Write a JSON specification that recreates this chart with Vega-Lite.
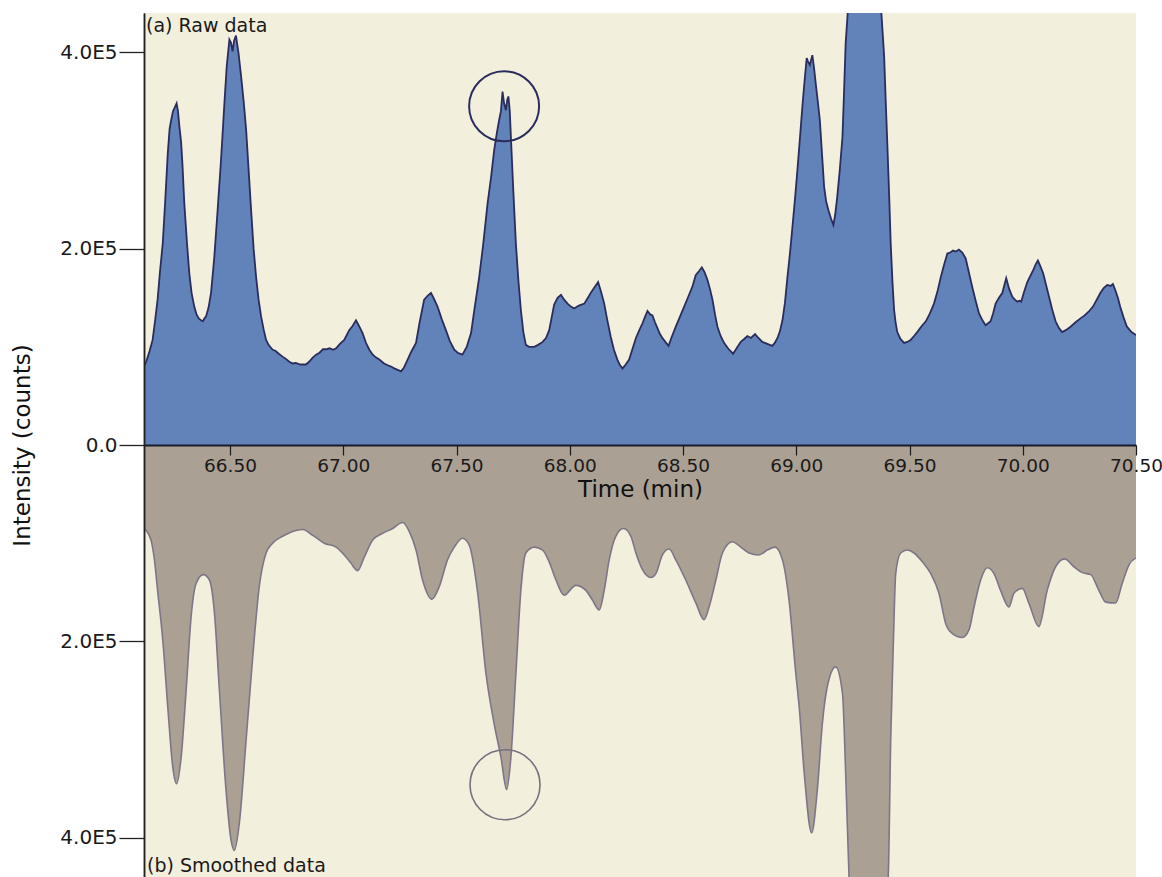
{
  "$schema": "https://vega.github.io/schema/vega-lite/v6.json",
  "width": 992,
  "height": 864,
  "autosize": {"type": "none"},
  "padding": {"left": 144, "top": 13, "right": 26, "bottom": 0},
  "background": "white",
  "config": {
    "view": {"fill": "#F3EFDD", "stroke": null},
    "font": "DejaVu Sans",
    "axis": {"labelFont": "DejaVu Sans", "labelColor": "#1a1a1a", "titleFont": "DejaVu Sans", "titleFontSize": 23, "titleFontWeight": "normal", "titleColor": "#111111", "grid": false},
    "axisX": {"labelFontSize": 18.5},
    "axisY": {"labelFontSize": 20}
  },
  "datasets": {
    "raw": [
      {"t":66.12,"v":80000},{"t":66.13,"v":85000},{"t":66.137,"v":90000},{"t":66.145,"v":96000},{"t":66.158,"v":107000},{"t":66.168,"v":125000},{"t":66.18,"v":148000},{"t":66.19,"v":175000},{"t":66.203,"v":206000},{"t":66.214,"v":250000},{"t":66.225,"v":297000},{"t":66.233,"v":322000},{"t":66.24,"v":331000},{"t":66.248,"v":340000},{"t":66.256,"v":344000},{"t":66.264,"v":348000},{"t":66.27,"v":340000},{"t":66.276,"v":325000},{"t":66.284,"v":308000},{"t":66.29,"v":285000},{"t":66.298,"v":246000},{"t":66.31,"v":205000},{"t":66.32,"v":175000},{"t":66.33,"v":155000},{"t":66.342,"v":141000},{"t":66.352,"v":133000},{"t":66.362,"v":129000},{"t":66.372,"v":127000},{"t":66.38,"v":126000},{"t":66.387,"v":129000},{"t":66.394,"v":131000},{"t":66.405,"v":140000},{"t":66.416,"v":155000},{"t":66.43,"v":190000},{"t":66.445,"v":239000},{"t":66.46,"v":290000},{"t":66.475,"v":348000},{"t":66.485,"v":385000},{"t":66.497,"v":413000},{"t":66.504,"v":410000},{"t":66.511,"v":401000},{"t":66.518,"v":412000},{"t":66.526,"v":417000},{"t":66.537,"v":400000},{"t":66.549,"v":375000},{"t":66.56,"v":350000},{"t":66.571,"v":321000},{"t":66.582,"v":280000},{"t":66.593,"v":239000},{"t":66.604,"v":200000},{"t":66.615,"v":171000},{"t":66.626,"v":148000},{"t":66.637,"v":131000},{"t":66.648,"v":118000},{"t":66.659,"v":107000},{"t":66.67,"v":102000},{"t":66.688,"v":97000},{"t":66.7,"v":96000},{"t":66.715,"v":93000},{"t":66.732,"v":90000},{"t":66.745,"v":88000},{"t":66.76,"v":85000},{"t":66.776,"v":83000},{"t":66.79,"v":83500},{"t":66.81,"v":82000},{"t":66.835,"v":82000},{"t":66.85,"v":85000},{"t":66.865,"v":89000},{"t":66.88,"v":92000},{"t":66.895,"v":94000},{"t":66.91,"v":97500},{"t":66.924,"v":97500},{"t":66.94,"v":98500},{"t":66.955,"v":97000},{"t":66.968,"v":98500},{"t":66.985,"v":103000},{"t":67.004,"v":107000},{"t":67.015,"v":112000},{"t":67.026,"v":117000},{"t":67.04,"v":121000},{"t":67.056,"v":127000},{"t":67.07,"v":121000},{"t":67.085,"v":114000},{"t":67.1,"v":104000},{"t":67.115,"v":97000},{"t":67.13,"v":92000},{"t":67.145,"v":89000},{"t":67.159,"v":87000},{"t":67.18,"v":83000},{"t":67.203,"v":80500},{"t":67.215,"v":79500},{"t":67.225,"v":78000},{"t":67.24,"v":76500},{"t":67.255,"v":75000},{"t":67.268,"v":79000},{"t":67.284,"v":87000},{"t":67.3,"v":95000},{"t":67.321,"v":104000},{"t":67.337,"v":125000},{"t":67.357,"v":148000},{"t":67.372,"v":152000},{"t":67.387,"v":155000},{"t":67.4,"v":149000},{"t":67.416,"v":141000},{"t":67.435,"v":128000},{"t":67.453,"v":117000},{"t":67.47,"v":106000},{"t":67.49,"v":97000},{"t":67.505,"v":94000},{"t":67.526,"v":92000},{"t":67.545,"v":100000},{"t":67.564,"v":114000},{"t":67.58,"v":140000},{"t":67.6,"v":171000},{"t":67.618,"v":205000},{"t":67.637,"v":246000},{"t":67.652,"v":272000},{"t":67.666,"v":300000},{"t":67.678,"v":318000},{"t":67.688,"v":331000},{"t":67.696,"v":340000},{"t":67.703,"v":360000},{"t":67.71,"v":348000},{"t":67.718,"v":341000},{"t":67.724,"v":352000},{"t":67.729,"v":355000},{"t":67.735,"v":340000},{"t":67.74,"v":314000},{"t":67.75,"v":262000},{"t":67.762,"v":205000},{"t":67.773,"v":168000},{"t":67.784,"v":137500},{"t":67.795,"v":115000},{"t":67.806,"v":102000},{"t":67.82,"v":100000},{"t":67.843,"v":100000},{"t":67.86,"v":102000},{"t":67.88,"v":105000},{"t":67.895,"v":109000},{"t":67.909,"v":117000},{"t":67.92,"v":130000},{"t":67.931,"v":143000},{"t":67.946,"v":150000},{"t":67.961,"v":153000},{"t":67.975,"v":148000},{"t":67.99,"v":144000},{"t":68.005,"v":141000},{"t":68.019,"v":139000},{"t":68.04,"v":142000},{"t":68.064,"v":144000},{"t":68.08,"v":150000},{"t":68.093,"v":155000},{"t":68.11,"v":161000},{"t":68.125,"v":166000},{"t":68.138,"v":156000},{"t":68.152,"v":144000},{"t":68.165,"v":128000},{"t":68.181,"v":110000},{"t":68.195,"v":97000},{"t":68.21,"v":87000},{"t":68.22,"v":82000},{"t":68.233,"v":78000},{"t":68.247,"v":82000},{"t":68.262,"v":87000},{"t":68.277,"v":98000},{"t":68.292,"v":109000},{"t":68.307,"v":117000},{"t":68.321,"v":124000},{"t":68.333,"v":131000},{"t":68.343,"v":136500},{"t":68.355,"v":133000},{"t":68.365,"v":132000},{"t":68.376,"v":125000},{"t":68.387,"v":119000},{"t":68.398,"v":113000},{"t":68.409,"v":109000},{"t":68.422,"v":105000},{"t":68.436,"v":101000},{"t":68.45,"v":110000},{"t":68.468,"v":120500},{"t":68.487,"v":131000},{"t":68.505,"v":141000},{"t":68.523,"v":151000},{"t":68.541,"v":161000},{"t":68.556,"v":173000},{"t":68.57,"v":177000},{"t":68.583,"v":181000},{"t":68.595,"v":176000},{"t":68.608,"v":168000},{"t":68.62,"v":158000},{"t":68.63,"v":148000},{"t":68.642,"v":132000},{"t":68.652,"v":120500},{"t":68.666,"v":111000},{"t":68.681,"v":104000},{"t":68.7,"v":98000},{"t":68.721,"v":93000},{"t":68.738,"v":99000},{"t":68.755,"v":105000},{"t":68.77,"v":108000},{"t":68.784,"v":111000},{"t":68.8,"v":109000},{"t":68.818,"v":113000},{"t":68.833,"v":109000},{"t":68.85,"v":105000},{"t":68.872,"v":103000},{"t":68.894,"v":101000},{"t":68.905,"v":104000},{"t":68.917,"v":109000},{"t":68.928,"v":116000},{"t":68.939,"v":127000},{"t":68.95,"v":145000},{"t":68.961,"v":171000},{"t":68.972,"v":195000},{"t":68.983,"v":222000},{"t":68.994,"v":250000},{"t":69.005,"v":280000},{"t":69.016,"v":312000},{"t":69.027,"v":345000},{"t":69.037,"v":372000},{"t":69.046,"v":394000},{"t":69.053,"v":390000},{"t":69.06,"v":387000},{"t":69.065,"v":392000},{"t":69.071,"v":397000},{"t":69.078,"v":385000},{"t":69.086,"v":368000},{"t":69.095,"v":350000},{"t":69.104,"v":331000},{"t":69.114,"v":295000},{"t":69.123,"v":263000},{"t":69.132,"v":248000},{"t":69.142,"v":239000},{"t":69.153,"v":231000},{"t":69.164,"v":224000},{"t":69.172,"v":235000},{"t":69.181,"v":253000},{"t":69.192,"v":280000},{"t":69.204,"v":314000},{"t":69.211,"v":360000},{"t":69.218,"v":409000},{"t":69.23,"v":450000},{"t":69.25,"v":520000},{"t":69.3,"v":600000},{"t":69.35,"v":520000},{"t":69.373,"v":450000},{"t":69.388,"v":396000},{"t":69.395,"v":350000},{"t":69.402,"v":307000},{"t":69.41,"v":255000},{"t":69.417,"v":205000},{"t":69.425,"v":165000},{"t":69.432,"v":137500},{"t":69.439,"v":124000},{"t":69.446,"v":115000},{"t":69.46,"v":108000},{"t":69.476,"v":104000},{"t":69.49,"v":105000},{"t":69.505,"v":107000},{"t":69.52,"v":111000},{"t":69.534,"v":115000},{"t":69.553,"v":121000},{"t":69.572,"v":126000},{"t":69.59,"v":134000},{"t":69.608,"v":144000},{"t":69.623,"v":156000},{"t":69.638,"v":171000},{"t":69.652,"v":183000},{"t":69.667,"v":195000},{"t":69.68,"v":196000},{"t":69.692,"v":198000},{"t":69.705,"v":197000},{"t":69.718,"v":199000},{"t":69.733,"v":196000},{"t":69.748,"v":190000},{"t":69.762,"v":176000},{"t":69.777,"v":161000},{"t":69.792,"v":147000},{"t":69.807,"v":134000},{"t":69.822,"v":127000},{"t":69.836,"v":122000},{"t":69.847,"v":124000},{"t":69.858,"v":126000},{"t":69.869,"v":134000},{"t":69.88,"v":144000},{"t":69.895,"v":150000},{"t":69.91,"v":155000},{"t":69.92,"v":164000},{"t":69.927,"v":170000},{"t":69.94,"v":159000},{"t":69.954,"v":151000},{"t":69.965,"v":148000},{"t":69.976,"v":146000},{"t":69.985,"v":147000},{"t":69.993,"v":146000},{"t":70.006,"v":156000},{"t":70.02,"v":166000},{"t":70.033,"v":172000},{"t":70.046,"v":178000},{"t":70.057,"v":184000},{"t":70.067,"v":188000},{"t":70.078,"v":182000},{"t":70.09,"v":175000},{"t":70.103,"v":163000},{"t":70.116,"v":151000},{"t":70.13,"v":138000},{"t":70.145,"v":126000},{"t":70.16,"v":119000},{"t":70.174,"v":115000},{"t":70.19,"v":117000},{"t":70.211,"v":120500},{"t":70.233,"v":125000},{"t":70.255,"v":129000},{"t":70.273,"v":132000},{"t":70.292,"v":136000},{"t":70.31,"v":141000},{"t":70.329,"v":149000},{"t":70.343,"v":155000},{"t":70.358,"v":160000},{"t":70.373,"v":163000},{"t":70.388,"v":162000},{"t":70.398,"v":164000},{"t":70.408,"v":158000},{"t":70.42,"v":150000},{"t":70.43,"v":141000},{"t":70.445,"v":130000},{"t":70.46,"v":120500},{"t":70.48,"v":115000},{"t":70.5,"v":112000}
    ],
    "smooth": [
      {"t":66.12,"v":85000},{"t":66.151,"v":97000},{"t":66.165,"v":115000},{"t":66.18,"v":148000},{"t":66.203,"v":199000},{"t":66.225,"v":267000},{"t":66.247,"v":328000},{"t":66.264,"v":345000},{"t":66.284,"v":318000},{"t":66.306,"v":250000},{"t":66.328,"v":175000},{"t":66.35,"v":141000},{"t":66.382,"v":132000},{"t":66.409,"v":137500},{"t":66.431,"v":171000},{"t":66.453,"v":250000},{"t":66.482,"v":351000},{"t":66.504,"v":402000},{"t":66.519,"v":413000},{"t":66.541,"v":385000},{"t":66.571,"v":300000},{"t":66.6,"v":216000},{"t":66.629,"v":144000},{"t":66.659,"v":110000},{"t":66.688,"v":100000},{"t":66.732,"v":93000},{"t":66.776,"v":88000},{"t":66.82,"v":86000},{"t":66.865,"v":92000},{"t":66.916,"v":100000},{"t":66.968,"v":104000},{"t":67.004,"v":112000},{"t":67.034,"v":120500},{"t":67.063,"v":128000},{"t":67.093,"v":114000},{"t":67.129,"v":97000},{"t":67.173,"v":90000},{"t":67.218,"v":85000},{"t":67.262,"v":79000},{"t":67.291,"v":88000},{"t":67.321,"v":107000},{"t":67.35,"v":137500},{"t":67.391,"v":157000},{"t":67.424,"v":144000},{"t":67.46,"v":117000},{"t":67.49,"v":104000},{"t":67.526,"v":95000},{"t":67.556,"v":102000},{"t":67.593,"v":150000},{"t":67.63,"v":233000},{"t":67.666,"v":284000},{"t":67.696,"v":318000},{"t":67.721,"v":351000},{"t":67.74,"v":318000},{"t":67.762,"v":233000},{"t":67.784,"v":148000},{"t":67.806,"v":110000},{"t":67.843,"v":104000},{"t":67.88,"v":107000},{"t":67.909,"v":119000},{"t":67.939,"v":137500},{"t":67.975,"v":153000},{"t":68.027,"v":143000},{"t":68.071,"v":148000},{"t":68.1,"v":158000},{"t":68.13,"v":168000},{"t":68.152,"v":148000},{"t":68.174,"v":117000},{"t":68.203,"v":93000},{"t":68.237,"v":85000},{"t":68.27,"v":93000},{"t":68.292,"v":110000},{"t":68.321,"v":127000},{"t":68.358,"v":135000},{"t":68.38,"v":131000},{"t":68.409,"v":112000},{"t":68.439,"v":106000},{"t":68.468,"v":117000},{"t":68.512,"v":137500},{"t":68.557,"v":161000},{"t":68.593,"v":178000},{"t":68.615,"v":165000},{"t":68.645,"v":137500},{"t":68.674,"v":110000},{"t":68.718,"v":98500},{"t":68.755,"v":104000},{"t":68.791,"v":110000},{"t":68.835,"v":112000},{"t":68.872,"v":107000},{"t":68.906,"v":104000},{"t":68.939,"v":117000},{"t":68.968,"v":158000},{"t":68.998,"v":233000},{"t":69.013,"v":267000},{"t":69.035,"v":334000},{"t":69.068,"v":395000},{"t":69.093,"v":351000},{"t":69.115,"v":284000},{"t":69.137,"v":246000},{"t":69.174,"v":226000},{"t":69.204,"v":253000},{"t":69.218,"v":334000},{"t":69.233,"v":440000},{"t":69.26,"v":540000},{"t":69.3,"v":600000},{"t":69.36,"v":540000},{"t":69.406,"v":440000},{"t":69.417,"v":300000},{"t":69.429,"v":199000},{"t":69.439,"v":131000},{"t":69.461,"v":110000},{"t":69.49,"v":107000},{"t":69.52,"v":110000},{"t":69.557,"v":119000},{"t":69.594,"v":131000},{"t":69.63,"v":151000},{"t":69.66,"v":182000},{"t":69.689,"v":192000},{"t":69.733,"v":196000},{"t":69.763,"v":188000},{"t":69.785,"v":165000},{"t":69.814,"v":137500},{"t":69.843,"v":125000},{"t":69.873,"v":131000},{"t":69.902,"v":148000},{"t":69.939,"v":165000},{"t":69.961,"v":151000},{"t":69.998,"v":146000},{"t":70.027,"v":161000},{"t":70.071,"v":185000},{"t":70.108,"v":148000},{"t":70.145,"v":124000},{"t":70.185,"v":116000},{"t":70.226,"v":124000},{"t":70.263,"v":130000},{"t":70.3,"v":132000},{"t":70.336,"v":148000},{"t":70.366,"v":160000},{"t":70.41,"v":161000},{"t":70.439,"v":141000},{"t":70.469,"v":122000},{"t":70.5,"v":115000}
    ],
    "rawMark": [{"t": 67.71, "v": 345000}],
    "smoothMark": [{"t": 67.714, "v": 346000}],
    "rawLabel": [{"t": 66.12, "v": 440000, "label": "(a) Raw data"}],
    "smoothLabel": [{"t": 66.12, "v": 440000, "label": "(b) Smoothed data"}]
  },
  "layer": [
    {
      "layer": [
        {
          "data": {"name": "raw"},
          "mark": {"type": "area", "clip": true, "color": "#6282BA", "opacity": 1, "interpolate": "linear"},
          "encoding": {
            "x": {"field": "t", "type": "quantitative", "scale": {"domain": [66.12, 70.5], "nice": false, "zero": false},
              "axis": {"title": "Time (min)", "orient": "bottom", "offset": -432, "values": [66.5, 67, 67.5, 68, 68.5, 69, 69.5, 70, 70.5], "format": ".2f", "tickSize": 10, "tickColor": "#1a1a1a", "tickWidth": 1.2, "domainColor": "#1a1a2a", "domainWidth": 2.2, "labelFont": "DejaVu Sans", "labelFontSize": 18.5, "labelColor": "#1a1a1a", "labelPadding": 1, "labelFlush": false, "labelOverlap": false, "titleFont": "DejaVu Sans", "titleFontSize": 23, "titleFontWeight": "normal", "titleColor": "#111111", "titlePadding": 4, "grid": false, "zindex": 1}},
            "y": {"field": "v", "type": "quantitative", "scale": {"domain": [-440000, 440000], "nice": false},
              "axis": {"title": "Intensity (counts)", "orient": "left", "values": [0, 200000, 400000], "labelExpr": "datum.value == 0 ? '0.0' : format(datum.value/100000, '.1f') + 'E5'", "tickSize": 25, "tickColor": "#222222", "tickWidth": 1.3, "domainColor": "#222222", "domainWidth": 1.5, "labelFont": "DejaVu Sans", "labelFontSize": 20, "labelColor": "#1a1a1a", "labelPadding": 2, "grid": false, "titleFont": "DejaVu Sans", "titleFontSize": 23, "titleFontWeight": "normal", "titleColor": "#111111", "titleX": -122, "titleY": 432, "titleAngle": -90, "titleBaseline": "middle", "titleAlign": "center", "zindex": 1}}
          }
        },
        {
          "data": {"name": "raw"},
          "mark": {"type": "line", "clip": true, "color": "#2A2D5C", "strokeWidth": 1.8, "interpolate": "linear"},
          "encoding": {
            "x": {"field": "t", "type": "quantitative", "scale": {"domain": [66.12, 70.5], "nice": false, "zero": false}},
            "y": {"field": "v", "type": "quantitative", "scale": {"domain": [-440000, 440000], "nice": false}}
          }
        },
        {
          "data": {"name": "rawMark"},
          "mark": {"type": "point", "shape": "circle", "filled": false, "size": 4900, "stroke": "#2A2D5C", "strokeWidth": 2, "opacity": 1},
          "encoding": {
            "x": {"field": "t", "type": "quantitative", "scale": {"domain": [66.12, 70.5], "nice": false, "zero": false}},
            "y": {"field": "v", "type": "quantitative", "scale": {"domain": [-440000, 440000], "nice": false}}
          }
        },
        {
          "data": {"name": "rawLabel"},
          "mark": {"type": "text", "align": "left", "baseline": "alphabetic", "dx": 2, "dy": 19, "fontSize": 19, "font": "DejaVu Sans", "color": "#1a1a1a"},
          "encoding": {
            "x": {"field": "t", "type": "quantitative", "scale": {"domain": [66.12, 70.5], "nice": false, "zero": false}},
            "y": {"field": "v", "type": "quantitative", "scale": {"domain": [-440000, 440000], "nice": false}},
            "text": {"field": "label", "type": "nominal"}
          }
        }
      ]
    },
    {
      "layer": [
        {
          "data": {"name": "smooth"},
          "mark": {"type": "area", "clip": true, "color": "#AAA093", "opacity": 1, "interpolate": "monotone"},
          "encoding": {
            "x": {"field": "t", "type": "quantitative", "scale": {"domain": [66.12, 70.5], "nice": false, "zero": false}},
            "y": {"field": "v", "type": "quantitative", "scale": {"domain": [-440000, 440000], "nice": false, "reverse": true},
              "axis": {"title": null, "orient": "left", "values": [200000, 400000], "labelExpr": "format(datum.value/100000, '.1f') + 'E5'", "tickSize": 25, "tickColor": "#222222", "tickWidth": 1.3, "domainColor": "#222222", "domainWidth": 1.5, "labelFont": "DejaVu Sans", "labelFontSize": 20, "labelColor": "#1a1a1a", "labelPadding": 2, "grid": false, "zindex": 1}}
          }
        },
        {
          "data": {"name": "smooth"},
          "mark": {"type": "line", "clip": true, "color": "#7D7689", "strokeWidth": 1.6, "interpolate": "monotone"},
          "encoding": {
            "x": {"field": "t", "type": "quantitative", "scale": {"domain": [66.12, 70.5], "nice": false, "zero": false}},
            "y": {"field": "v", "type": "quantitative", "scale": {"domain": [-440000, 440000], "nice": false, "reverse": true}}
          }
        },
        {
          "data": {"name": "smoothMark"},
          "mark": {"type": "point", "shape": "circle", "filled": false, "size": 4900, "stroke": "#77707F", "strokeWidth": 1.6, "opacity": 1},
          "encoding": {
            "x": {"field": "t", "type": "quantitative", "scale": {"domain": [66.12, 70.5], "nice": false, "zero": false}},
            "y": {"field": "v", "type": "quantitative", "scale": {"domain": [-440000, 440000], "nice": false, "reverse": true}}
          }
        },
        {
          "data": {"name": "smoothLabel"},
          "mark": {"type": "text", "align": "left", "baseline": "alphabetic", "dx": 3, "dy": -5, "fontSize": 19, "font": "DejaVu Sans", "color": "#1a1a1a"},
          "encoding": {
            "x": {"field": "t", "type": "quantitative", "scale": {"domain": [66.12, 70.5], "nice": false, "zero": false}},
            "y": {"field": "v", "type": "quantitative", "scale": {"domain": [-440000, 440000], "nice": false, "reverse": true}},
            "text": {"field": "label", "type": "nominal"}
          }
        }
      ]
    }
  ],
  "resolve": {"scale": {"y": "independent"}, "axis": {"y": "independent"}}
}
